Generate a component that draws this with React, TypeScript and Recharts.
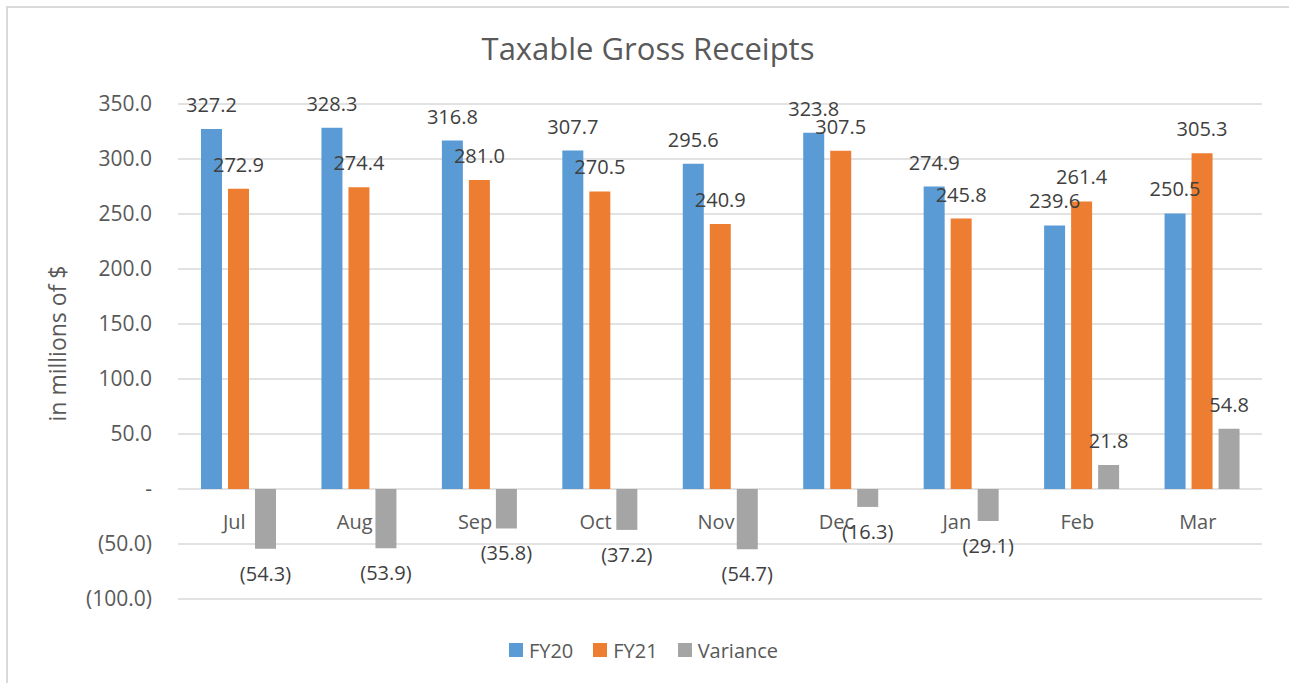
import React from "react";
import { BarChart, Bar, XAxis, YAxis, CartesianGrid, Legend, LabelList } from "recharts";

const months = ["Jul", "Aug", "Sep", "Oct", "Nov", "Dec", "Jan", "Feb", "Mar"];
const fy20 = [327.2, 328.3, 316.8, 307.7, 295.6, 323.8, 274.9, 239.6, 250.5];
const fy21 = [272.9, 274.4, 281.0, 270.5, 240.9, 307.5, 245.8, 261.4, 305.3];
const variance = [-54.3, -53.9, -35.8, -37.2, -54.7, -16.3, -29.1, 21.8, 54.8];
const yTicks = [-100, -50, 0, 50, 100, 150, 200, 250, 300, 350];

const COLORS = { fy20: "#5B9BD5", fy21: "#ED7D31", variance: "#A5A5A5" };
const FONT = "'Open Sans', sans-serif";

const data = months.map((m, i) => ({
  month: m,
  FY20: fy20[i],
  FY21: fy21[i],
  Variance: variance[i],
}));

const fmt = (v: number) => {
  if (v === 0) return "-";
  const s = Math.abs(v).toFixed(1);
  return v < 0 ? `(${s})` : s;
};

// data label above positive bars, below negative ones (Excel "outside end")
const BarLabel = (props: any) => {
  const { x, y, width, height, value } = props;
  const top = Math.min(y, y + height);
  const bottom = Math.max(y, y + height);
  const cx = x + width / 2;
  const ty = value >= 0 ? top - 17 : bottom + 32;
  return (
    <text x={cx} y={ty} textAnchor="middle" fill="#404040" fontSize={20} fontFamily={FONT}>
      {fmt(value)}
    </text>
  );
};

// category names sit just under the zero line, not at the plot bottom
const MonthTick = (props: any) => {
  const { x, y, payload } = props;
  return (
    <text x={x - 4} y={y - 110 + 38} textAnchor="middle" fill="#595959" fontSize={20} fontFamily={FONT}>
      {payload.value}
    </text>
  );
};

const renderLegend = (props: any) => {
  const { payload } = props;
  return (
    <div style={{ display: "flex", justifyContent: "center", alignItems: "center", height: 30, paddingLeft: 45 }}>
      {payload.map((p: any) => (
        <div key={p.value} style={{ display: "flex", alignItems: "center", marginRight: 20 }}>
          <span style={{ width: 14, height: 14, background: p.color, display: "inline-block", marginRight: 6 }} />
          <span style={{ fontFamily: FONT, fontSize: 20, color: "#595959" }}>{p.value}</span>
        </div>
      ))}
    </div>
  );
};

export default function App() {
  return (
    <div style={{ position: "absolute", left: 0, top: 0, width: 1289, height: 683, background: "#fff", overflow: "hidden" }}>
      {/* chart frame: only its top and left edges fall inside the picture */}
      <div style={{ position: "absolute", left: 6, top: 6, width: 1283, height: 2, background: "#d9d9d9" }} />
      <div style={{ position: "absolute", left: 6, top: 6, width: 2, height: 677, background: "#d9d9d9" }} />
      <div
        style={{
          position: "absolute",
          left: 7,
          top: 27,
          width: 1282,
          textAlign: "center",
          fontFamily: FONT,
          fontSize: 31,
          color: "#595959",
        }}
      >
        Taxable Gross Receipts
      </div>
      <div style={{ position: "absolute", left: 0, top: 0 }}>
        <BarChart
          width={1289}
          height={683}
          data={data}
          margin={{ top: 104, right: 27, bottom: 18, left: 0 }}
          barSize={21}
          barGap={6}
        >
          <CartesianGrid vertical={false} stroke="#d9d9d9" strokeWidth={1.3} />
          <XAxis
            dataKey="month"
            axisLine={false}
            tickLine={false}
            tickSize={0}
            height={36}
            interval={0}
            tick={<MonthTick />}
          />
          <YAxis
            width={178}
            domain={[-100, 350]}
            ticks={yTicks}
            tickFormatter={fmt}
            axisLine={false}
            tickLine={false}
            tickSize={0}
            tickMargin={26}
            tick={{ fill: "#595959", fontSize: 21, fontFamily: FONT }}
            label={{
              content: (p: any) => {
                const vb = p.viewBox;
                const cx = vb.x + 66;
                const cy = vb.y + vb.height / 2 - 8;
                return (
                  <text
                    x={cx}
                    y={cy}
                    transform={`rotate(-90, ${cx}, ${cy})`}
                    textAnchor="middle"
                    fill="#595959"
                    fontSize={23}
                    fontFamily={FONT}
                  >
                    in millions of $
                  </text>
                );
              },
            }}
          />
          <Legend verticalAlign="bottom" content={renderLegend} />
          <Bar dataKey="FY20" fill={COLORS.fy20} isAnimationActive={false}>
            <LabelList dataKey="FY20" content={<BarLabel />} />
          </Bar>
          <Bar dataKey="FY21" fill={COLORS.fy21} isAnimationActive={false}>
            <LabelList dataKey="FY21" content={<BarLabel />} />
          </Bar>
          <Bar dataKey="Variance" fill={COLORS.variance} isAnimationActive={false}>
            <LabelList dataKey="Variance" content={<BarLabel />} />
          </Bar>
        </BarChart>
      </div>
    </div>
  );
}
